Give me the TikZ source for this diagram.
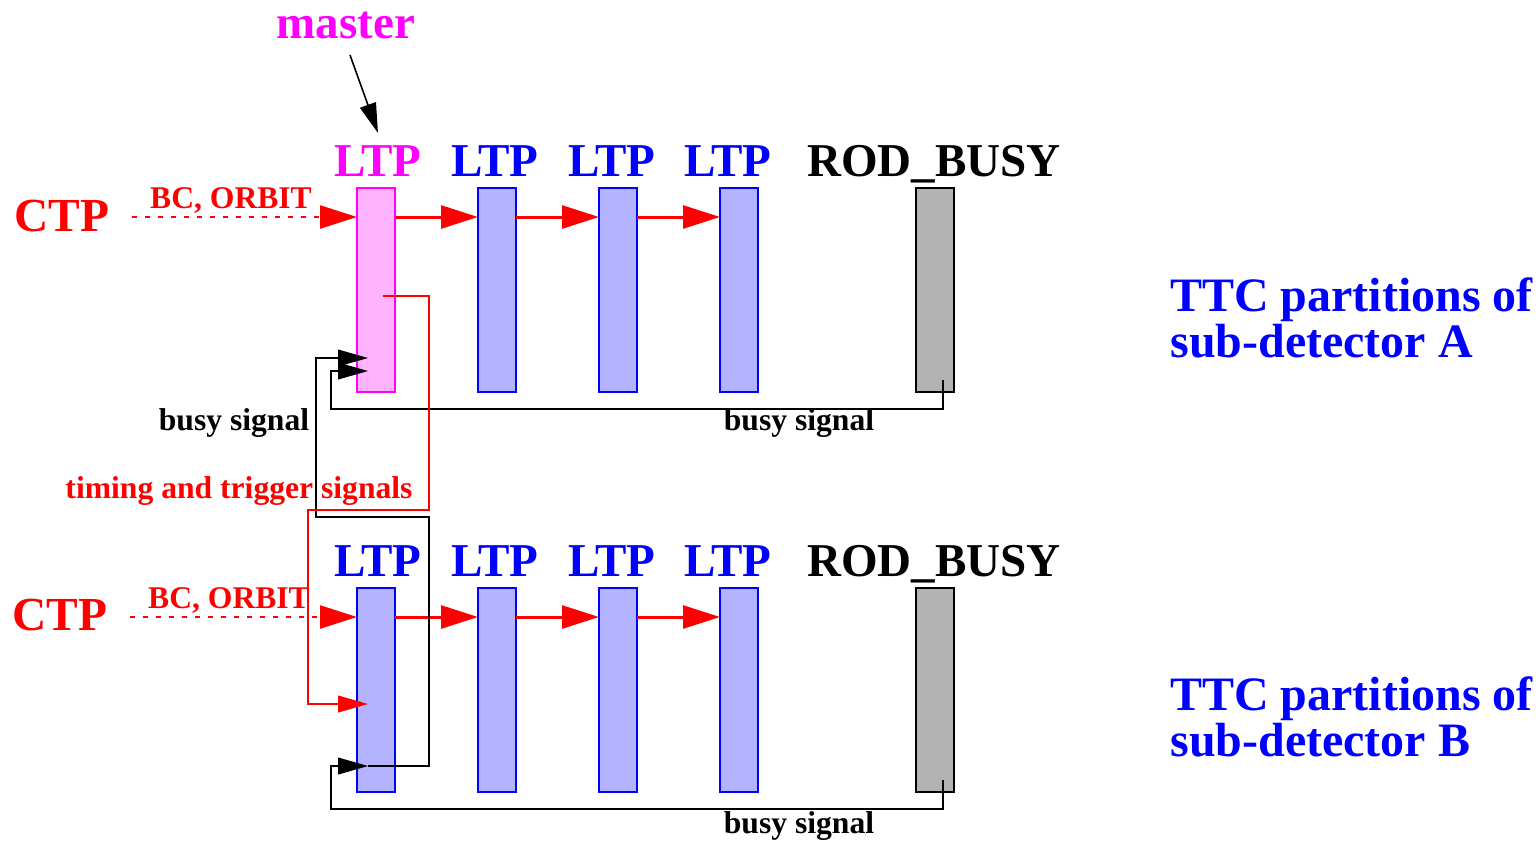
\documentclass[tikz,border=0pt]{standalone}
\usepackage{fontspec}
\setmainfont{Liberation Serif}
\usetikzlibrary{arrows.meta}
\definecolor{pinkfill}{HTML}{FFB3FF}
\definecolor{ltpfill}{HTML}{B3B3FF}
\definecolor{rodgray}{HTML}{B3B3B3}
\definecolor{mag}{HTML}{FF00FF}
\tikzset{
  bar/.style={line width=0.8pt, minimum width=0.76cm, minimum height=4.08cm, inner sep=0pt, outer sep=0pt},
  ltpbar/.style={bar, draw=blue, fill=ltpfill},
  masterbar/.style={bar, draw=mag, fill=pinkfill},
  rodbar/.style={bar, draw=black, fill=rodgray},
  big/.style={font=\fontsize{26.8}{32}\selectfont\bfseries, inner sep=0pt, anchor=base},
  huge/.style={font=\fontsize{27}{32}\selectfont\bfseries, inner sep=0pt, anchor=base},
  small/.style={font=\fontsize{18}{22}\selectfont\bfseries, inner sep=0pt, anchor=base},
  ttc/.style={font=\fontsize{27.3}{32}\selectfont\bfseries, inner sep=0pt, anchor=base west, text=blue},
  redarrow/.style={red, line width=1.7pt, -{Triangle[length=21pt,width=13pt]}},
  ctparrow/.style={red, line width=1.5pt, dash pattern=on 2.8pt off 4.6pt, -{Triangle[length=21pt,width=13pt]}},
  thinredarrow/.style={red, line width=0.9pt, -{Triangle[length=17pt,width=9.5pt]}},
  blackarrow/.style={black, line width=0.9pt, -{Triangle[length=17pt,width=9.5pt]}},
}
\begin{document}
\begin{tikzpicture}[x=0.02cm,y=-0.02cm]
\useasboundingbox (0,0) rectangle (1540,840);

% ---- top row (sub-detector A)
\node[masterbar] (a1) at (376,290) {};
\node[ltpbar] (a2) at (497,290) {};
\node[ltpbar] (a3) at (618,290) {};
\node[ltpbar] (a4) at (739,290) {};
\node[rodbar] (ra) at (935,290) {};

\node[big, text=mag] (master) at (346,38) {master};
\node[big, text=mag] (la1) at (378,176) {LTP};
\node[big, text=blue] (la2) at (495,176) {LTP};
\node[big, text=blue] (la3) at (612,176) {LTP};
\node[big, text=blue] (la4) at (728,176) {LTP};
\node[big] (lra) at (934,176) {ROD\_BUSY};
\node[huge, text=red] (ctpa) at (62,231) {CTP};
\node[small, text=red] (bca) at (231,208) {BC, ORBIT};
\node[ttc] (ttca1) at (1170,311) {TTC partitions of};
\node[ttc] (ttca2) at (1170,357) {sub-detector A};
\node[small] (busyl) at (234,430) {busy signal};
\node[small] (busya) at (799,430) {busy signal};
\node[small, text=red] (timing) at (239,498) {timing and trigger signals};

% ---- bottom row (sub-detector B)
\node[ltpbar] (b1) at (376,690) {};
\node[ltpbar] (b2) at (497,690) {};
\node[ltpbar] (b3) at (618,690) {};
\node[ltpbar] (b4) at (739,690) {};
\node[rodbar] (rb) at (935,690) {};

\node[big, text=blue] (lb1) at (378,576) {LTP};
\node[big, text=blue] (lb2) at (495,576) {LTP};
\node[big, text=blue] (lb3) at (612,576) {LTP};
\node[big, text=blue] (lb4) at (728,576) {LTP};
\node[big] (lrb) at (934,576) {ROD\_BUSY};
\node[huge, text=red] (ctpb) at (60,630) {CTP};
\node[small, text=red] (bcb) at (229,608) {BC, ORBIT};
\node[ttc] (ttcb1) at (1170,710) {TTC partitions of};
\node[ttc] (ttcb2) at (1170,756) {sub-detector B};
\node[small] (busyb) at (799,833) {busy signal};

% ---- coordinates
\coordinate (mstart) at (350,55);
\coordinate (mend) at (378,133);
\coordinate (ctpastart) at (132,217);
\coordinate (ctpbstart) at (130,617);
\coordinate (raout) at (943,380);
\coordinate (rbout) at (943,780);
\coordinate (a1busyin) at (368,371);
\coordinate (a1crossin) at (368,358);
\coordinate (b1busyout) at (368,766);
\coordinate (b1busyin) at (368,766);
\coordinate (a1tout) at (383,296);
\coordinate (b1tin) at (368,704);

% ---- connectors top
\draw[black, line width=0.9pt, -{Triangle[length=17pt,width=9.5pt]}] (mstart) -- (mend);
\draw[ctparrow] (ctpastart) -- (a1.west |- ctpastart);
\draw[redarrow] (a1.east |- 0,217) -- (a2.west |- 0,217);
\draw[redarrow] (a2.east |- 0,217) -- (a3.west |- 0,217);
\draw[redarrow] (a3.east |- 0,217) -- (a4.west |- 0,217);

% ---- connectors bottom
\draw[ctparrow] (ctpbstart) -- (b1.west |- ctpbstart);
\draw[redarrow] (b1.east |- 0,617) -- (b2.west |- 0,617);
\draw[redarrow] (b2.east |- 0,617) -- (b3.west |- 0,617);
\draw[redarrow] (b3.east |- 0,617) -- (b4.west |- 0,617);

% ---- busy and timing routing
\draw[blackarrow] (raout) |- (331,409) |- (a1busyin);
\draw[blackarrow] (rbout) |- (331,809) |- (b1busyin);
\draw[blackarrow] (b1busyout) -| (429,517) -| (316,358) -- (a1crossin);
\draw[thinredarrow] (a1tout) -| (429,510) -| (308,704) -- (b1tin);
\end{tikzpicture}
\end{document}
